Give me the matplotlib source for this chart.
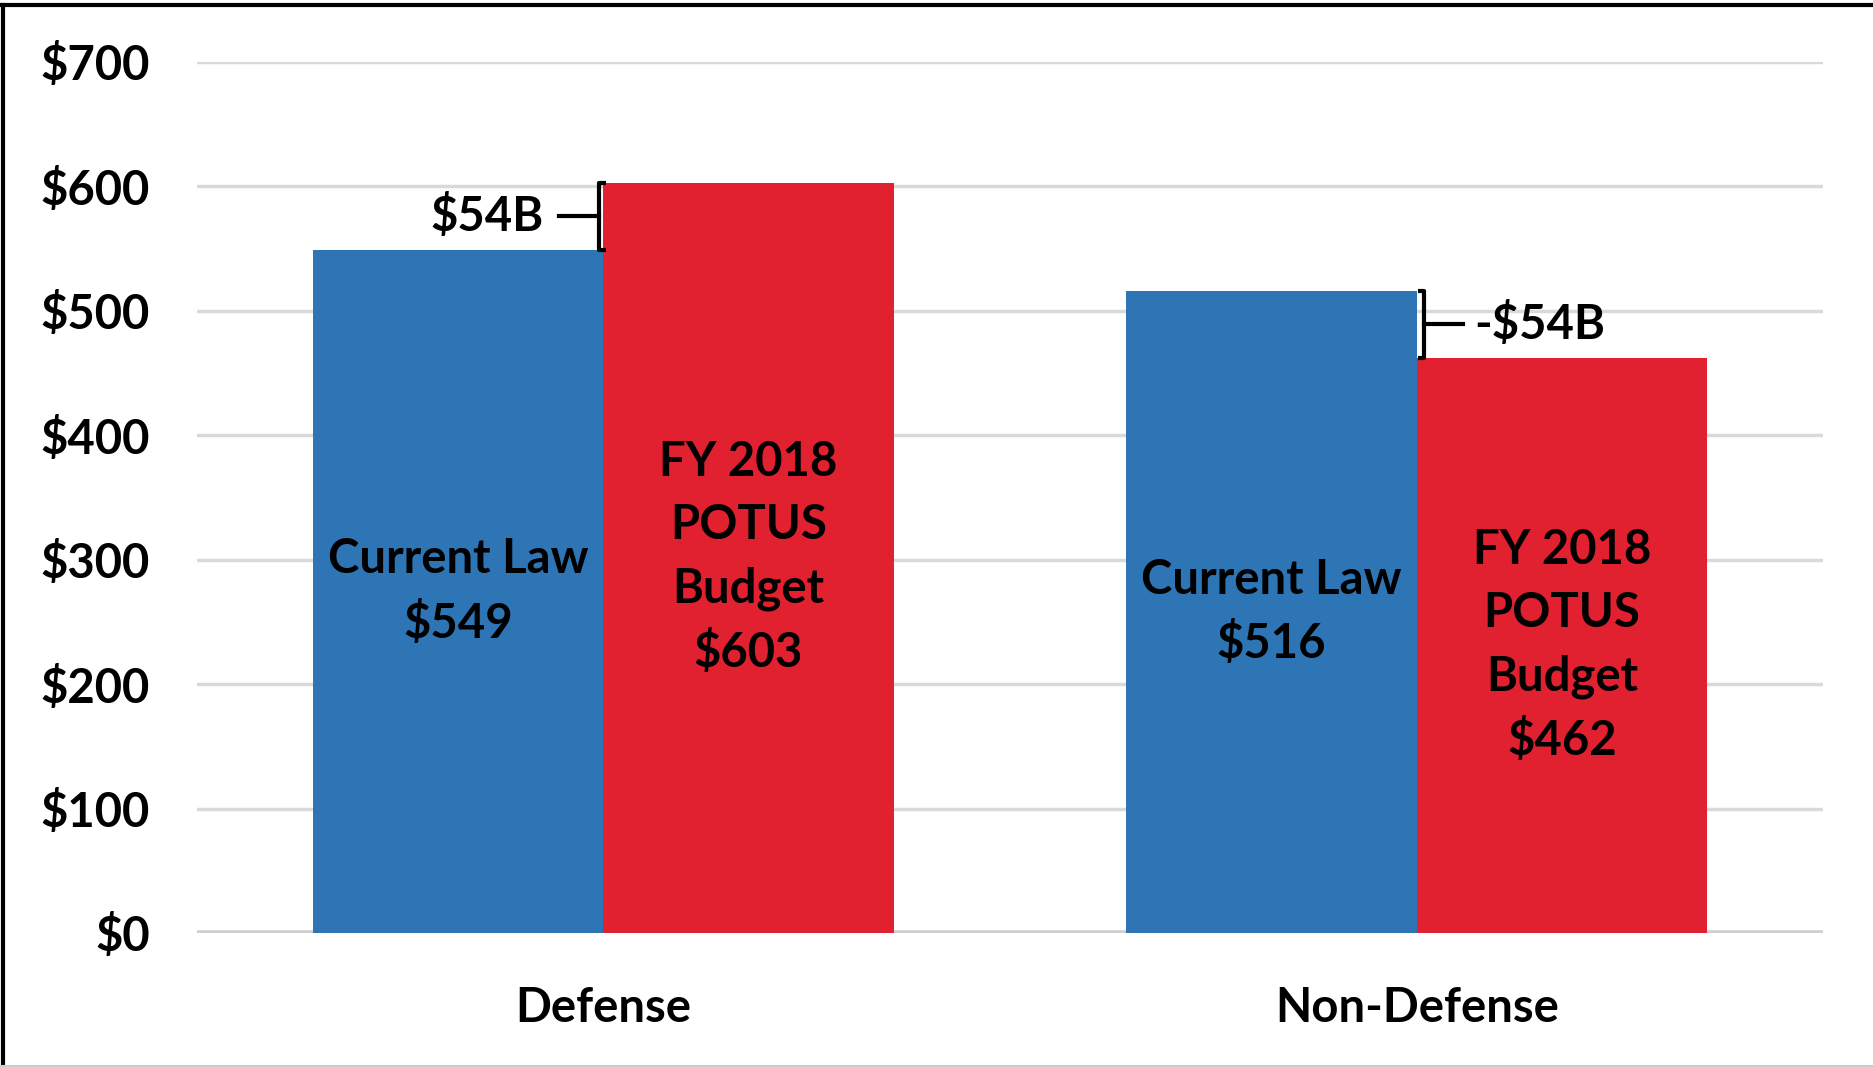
import matplotlib
matplotlib.use("Agg")
import matplotlib.pyplot as plt
import numpy as np

plt.rcParams["font.family"] = ["Lato", "DejaVu Sans"]
plt.rcParams["font.weight"] = "bold"

categories = ["Defense", "Non-Defense"]
current_law = [549, 516]
potus_budget = [603, 462]
diff_labels = ["$54B", "-$54B"]
yticks = [0, 100, 200, 300, 400, 500, 600, 700]

BLUE = "#2E75B6"
RED = "#E12130"
GRID = "#D9D9D9"
FS = 34

fig = plt.figure(figsize=(18.74, 10.67), dpi=100)
ax = fig.add_axes([0.105, 0.1256, 0.868, 0.8164])

x = np.arange(len(categories))
w = 0.357
ax.bar(x - w / 2, current_law, w, color=BLUE, zorder=2)
ax.bar(x + w / 2, potus_budget, w, color=RED, zorder=2)

for xi, v in zip(x, current_law):
    ax.text(xi - w / 2, v / 2, f"Current Law\n${v}", ha="center", va="center",
            fontsize=FS, fontweight="bold", linespacing=1.53, zorder=3)
for xi, v in zip(x, potus_budget):
    ax.text(xi + w / 2, v / 2, f"FY 2018\nPOTUS\nBudget\n${v}", ha="center", va="center",
            fontsize=FS, fontweight="bold", linespacing=1.53, zorder=3)

# brackets showing the change between the two bars
tick = 0.008
for i, (xi, lo, hi, lab) in enumerate(zip(x, current_law, potus_budget, diff_labels)):
    y0, y1 = min(lo, hi), max(lo, hi)
    mid = (y0 + y1) / 2
    if i == 0:
        bx = xi - 0.005
        ax.plot([bx + tick, bx, bx, bx + tick], [y1, y1, y0, y0], color="black", lw=3,
                zorder=4, solid_capstyle="butt")
        ax.plot([bx, bx - 0.05], [mid, mid], color="black", lw=3, zorder=4)
        ax.text(bx - 0.068, mid, lab, ha="right", va="center", fontsize=FS,
                fontweight="bold", zorder=4)
    else:
        bx = xi + 0.009
        ax.plot([bx - tick, bx, bx, bx - tick], [y1, y1, y0, y0], color="black", lw=3,
                zorder=4, solid_capstyle="butt")
        ax.plot([bx, bx + 0.048], [mid, mid], color="black", lw=3, zorder=4)
        ax.text(bx + 0.062, mid, lab, ha="left", va="center", fontsize=FS,
                fontweight="bold", zorder=4)

ax.set_xlim(-0.5, 1.5)
ax.set_ylim(0, 700)
ax.set_yticks(yticks)
ax.set_yticklabels([f"${t}" for t in yticks], fontsize=FS, fontweight="bold")
ax.set_xticks(x)
ax.set_xticklabels(categories, fontsize=FS, fontweight="bold")
ax.tick_params(axis="both", length=0)
ax.tick_params(axis="y", pad=34)
ax.tick_params(axis="x", pad=38)
ax.yaxis.grid(True, color=GRID, lw=2.5, zorder=0)
ax.set_axisbelow(True)
for s in ax.spines.values():
    s.set_visible(False)
ax.axhline(0, color="#CFCFCF", lw=4, zorder=1)

# outer frame of the original screenshot
fig.add_artist(plt.Line2D([0.0016, 0.0016], [0, 0.995], color="black", lw=3,
                          transform=fig.transFigure))
fig.add_artist(plt.Line2D([0, 1], [0.995, 0.995], color="black", lw=3,
                          transform=fig.transFigure))
fig.add_artist(plt.Line2D([0, 1], [0.0008, 0.0008], color="#CCCCCC", lw=1.5,
                          transform=fig.transFigure))

fig.savefig("out.png", dpi=100)
